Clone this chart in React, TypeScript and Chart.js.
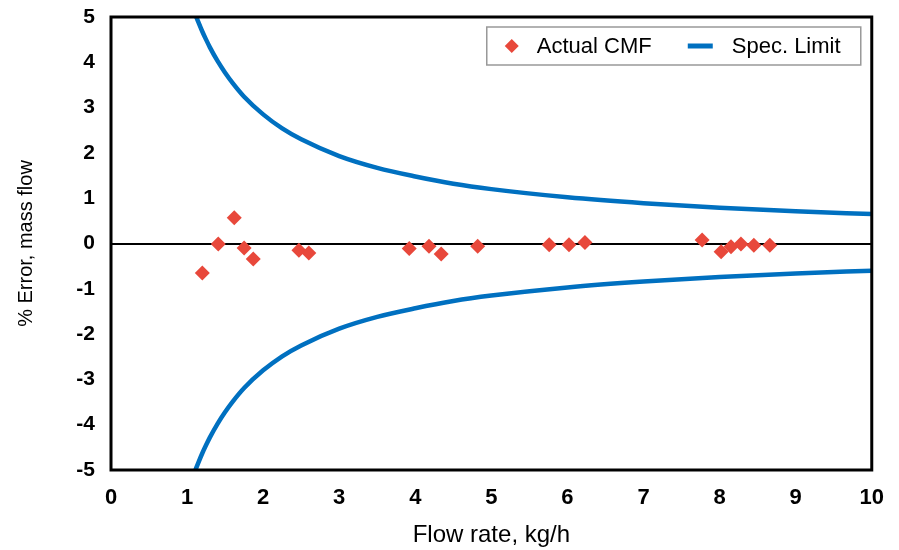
import React, { useEffect, useRef } from "react";
import { Chart, registerables } from "chart.js";

Chart.register(...registerables);

const FONT = "'Liberation Sans', Arial, sans-serif";

// Measured points (Actual CMF)
const flowRates = [1.2, 1.41, 1.62, 1.75, 1.87, 2.47, 2.6, 3.92, 4.18, 4.34, 4.82, 5.76, 6.02, 6.23, 7.77, 8.02, 8.15, 8.28, 8.45, 8.66];
const errors = [-0.65, -0.01, 0.57, -0.1, -0.34, -0.15, -0.21, -0.11, -0.06, -0.23, -0.06, -0.03, -0.03, 0.02, 0.08, -0.18, -0.07, -0.01, -0.04, -0.04];

// Spec limit curve
const specX = [1.11, 1.15, 1.2, 1.25, 1.3, 1.4, 1.5, 1.6, 1.75, 2, 2.25, 2.5, 3, 3.5, 4, 4.5, 5, 6, 7, 8, 9, 10];
const specUpper = [5.05, 4.88, 4.68, 4.5, 4.33, 4.03, 3.77, 3.54, 3.24, 2.85, 2.54, 2.3, 1.93, 1.67, 1.48, 1.32, 1.2, 1.02, 0.89, 0.79, 0.71, 0.65];
const specLower = [-5.0, -4.83, -4.63, -4.45, -4.28, -3.98, -3.72, -3.49, -3.19, -2.8, -2.49, -2.25, -1.88, -1.62, -1.43, -1.27, -1.15, -0.97, -0.84, -0.74, -0.66, -0.6];

const xTicks = [0, 1, 2, 3, 4, 5, 6, 7, 8, 9, 10];
const yTicks = [-5, -4, -3, -2, -1, 0, 1, 2, 3, 4, 5];

const RED = "#E8483B";
const BLUE = "#0070C0";

const framePlugin = {
  id: "frameAndLegend",
  afterDatasetsDraw(chart: any) {
    const { ctx, chartArea } = chart;
    const { left, top, right, bottom } = chartArea;
    ctx.save();
    ctx.strokeStyle = "#000";
    ctx.lineWidth = 3;
    ctx.strokeRect(left, top, right - left, bottom - top);

    // legend box
    const bx = right - 385;
    const by = top + 10;
    const bw = 374;
    const bh = 38;
    ctx.fillStyle = "#fff";
    ctx.fillRect(bx, by, bw, bh);
    ctx.strokeStyle = "#999";
    ctx.lineWidth = 1.5;
    ctx.strokeRect(bx, by, bw, bh);
    const cy = by + bh / 2;
    // diamond
    ctx.fillStyle = RED;
    ctx.beginPath();
    const dx = bx + 25;
    ctx.moveTo(dx, cy - 7);
    ctx.lineTo(dx + 7, cy);
    ctx.lineTo(dx, cy + 7);
    ctx.lineTo(dx - 7, cy);
    ctx.closePath();
    ctx.fill();
    ctx.font = `22px ${FONT}`;
    ctx.fillStyle = "#000";
    ctx.textBaseline = "middle";
    ctx.textAlign = "left";
    ctx.fillText(chart.data.datasets[0].label, bx + 50, cy + 1);
    // line
    ctx.strokeStyle = BLUE;
    ctx.lineWidth = 5;
    ctx.beginPath();
    ctx.moveTo(bx + 201, cy);
    ctx.lineTo(bx + 226, cy);
    ctx.stroke();
    ctx.fillText(chart.data.datasets[1].label, bx + 245, cy + 1);
    ctx.restore();
  },
};

export default function App() {
  const ref = useRef<HTMLCanvasElement>(null);
  useEffect(() => {
    document.body.style.margin = "0";
    const canvas = ref.current!;
    const chart = new Chart(canvas, {
      type: "scatter",
      data: {
        datasets: [
          {
            label: "Actual CMF",
            data: flowRates.map((x, i) => ({ x, y: errors[i] })),
            backgroundColor: RED,
            borderColor: RED,
            borderWidth: 0,
            pointStyle: "rectRot",
            pointRadius: 7.5,
            order: 0,
          },
          {
            label: "Spec. Limit",
            type: "line",
            data: specX.map((x, i) => ({ x, y: specUpper[i] })),
            borderColor: BLUE,
            backgroundColor: BLUE,
            borderWidth: 4.5,
            pointRadius: 0,
            showLine: true,
            cubicInterpolationMode: "monotone",
            fill: false,
            order: 1,
          },
          {
            label: "Spec. Limit (lower)",
            type: "line",
            data: specX.map((x, i) => ({ x, y: specLower[i] })),
            borderColor: BLUE,
            backgroundColor: BLUE,
            borderWidth: 4.5,
            pointRadius: 0,
            showLine: true,
            cubicInterpolationMode: "monotone",
            fill: false,
            order: 1,
          },
        ],
      } as any,
      plugins: [framePlugin],
      options: {
        animation: false,
        responsive: false,
        devicePixelRatio: 1,
        layout: { padding: { top: 17, right: 27, left: 0, bottom: 0 } },
        plugins: { legend: { display: false }, tooltip: { enabled: false } },
        scales: {
          x: {
            type: "linear",
            min: 0,
            max: 10,
            afterBuildTicks: (s: any) => {
              s.ticks = xTicks.map((v) => ({ value: v }));
            },
            afterFit: (s: any) => {
              s.height = 80;
            },
            grid: { display: false, drawTicks: false },
            border: { display: false },
            ticks: {
              padding: 15,
              color: "#000",
              font: { family: FONT, size: 22, weight: "bold" },
              maxRotation: 0,
            },
            title: {
              display: true,
              text: "Flow rate, kg/h",
              color: "#000",
              font: { family: FONT, size: 24 },
              padding: { top: 0, bottom: 0 },
            },
          },
          y: {
            type: "linear",
            min: -5,
            max: 5,
            afterBuildTicks: (s: any) => {
              s.ticks = yTicks.map((v) => ({ value: v }));
            },
            afterFit: (s: any) => {
              s.width = 111;
              s.paddingTop = 0;
              s.paddingBottom = 0;
            },
            grid: {
              drawTicks: false,
              color: (c: any) => (c.tick && c.tick.value === 0 ? "#000" : "rgba(0,0,0,0)"),
              lineWidth: 2,
            },
            border: { display: false },
            ticks: {
              padding: 16,
              color: "#000",
              font: { family: FONT, size: 21, weight: "bold" },
            },
            title: {
              display: true,
              text: "% Error, mass flow",
              color: "#000",
              font: { family: FONT, size: 20 },
              padding: { top: 14, bottom: 0 },
            },
          },
        },
      } as any,
    });
    return () => chart.destroy();
  }, []);
  return (
    <div style={{ width: 899, height: 550, background: "#fff" }}>
      <canvas ref={ref} width={899} height={550} style={{ display: "block" }} />
    </div>
  );
}
